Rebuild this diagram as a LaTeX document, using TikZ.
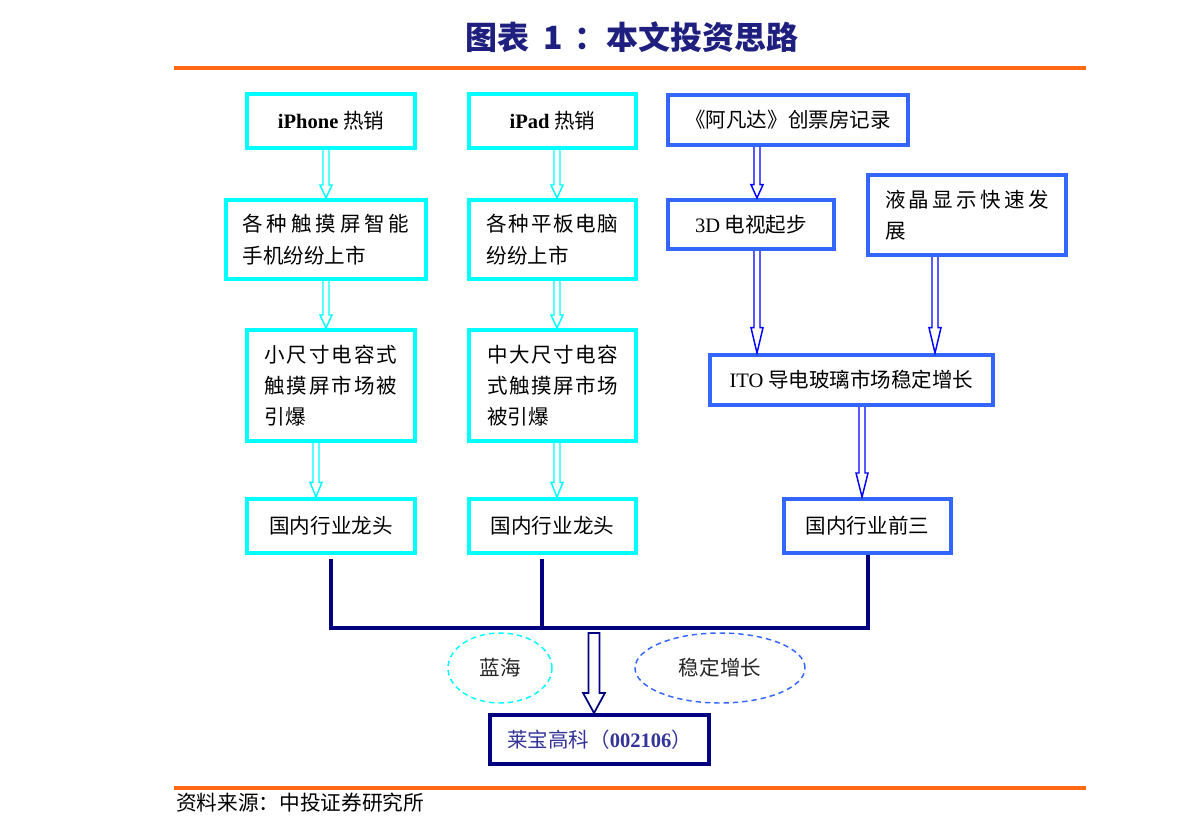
\documentclass[tikz,border=0pt]{standalone}
\usepackage{fontspec}
\setmainfont{Liberation Serif}
\newfontfamily\cjk{Noto Sans CJK SC}
\usetikzlibrary{calc,shapes.geometric}
\definecolor{cyanc}{HTML}{00FFFF}
\definecolor{bluebox}{HTML}{3366FF}
\definecolor{bluearr}{HTML}{0000FF}
\definecolor{navyc}{HTML}{000080}
\definecolor{titlec}{HTML}{1F1F7F}
\definecolor{orangec}{HTML}{FF6A10}
\definecolor{botc}{HTML}{333399}
\newcommand\fs{\fontsize{15.4pt}{23.5pt}\selectfont}
\newcommand\sline[2]{\makebox[#1][s]{#2}}
% #1 style, #2 start, #3 tip, #4 shaft half width, #5 head half width, #6 head length, #7 closing
\newcommand\harrow[7]{\draw[#1] let \p1=(#2), \p2=(#3) in (\x1-#4,\y1) -- (\x1-#4,\y2+#6) -- (\x1-#5,\y2+#6) -- (\x1,\y2) -- (\x1+#5,\y2+#6) -- (\x1+#4,\y2+#6) -- (\x1+#4,\y1) #7;}
\tikzset{
  box/.style={line width=3pt, fill=white, inner sep=0pt, font=\cjk\fs, text=black, align=center},
  cb/.style={box, draw=cyanc},
  bb/.style={box, draw=bluebox},
  sz/.style 2 args={minimum width=#1*0.75pt, minimum height=#2*0.75pt},
  carr/.style={draw=cyanc, line width=1.1pt, line join=miter},
  barr/.style={draw=bluearr, line width=1.1pt, line join=miter},
  narr/.style={draw=navyc, fill=white, line width=1.3pt, line join=miter},
  busl/.style={draw=navyc, line width=3pt, line join=miter},
  oval/.style={ellipse, line width=1.1pt, dash pattern=on 4pt off 3pt, inner sep=0pt, font=\cjk\fs, text=black!85}
}
\begin{document}
\begin{tikzpicture}[x=0.75pt,y=-0.75pt]
\fill[white] (0,0) rectangle (1191,834);
\useasboundingbox (0,0) rectangle (1191,834);

% title and rules
\node[font=\cjk\bfseries\fontsize{24pt}{28pt}\selectfont, text=titlec] (title) at (632,37) {图表\hspace{0.45em}1\hspace{0.35em}：本文投资思路};
\coordinate (r1a) at (174,68); \coordinate (r1b) at (1086,68);
\coordinate (r2a) at (174,788); \coordinate (r2b) at (1086,788);
\draw[orangec, line width=2.4pt] (r1a) -- (r1b);
\draw[orangec, line width=2.4pt] (r2a) -- (r2b);
\node[anchor=west, inner sep=0pt, font=\cjk\fontsize{15.5pt}{18pt}\selectfont] (src) at (176,803) {资料来源：中投证券研究所};

% left columns
\node[cb, sz={168}{54}] (n1) at (331,121) {{\rmfamily\bfseries iPhone} 热销};
\node[cb, sz={167}{54}] (n2) at (552.5,121) {{\rmfamily\bfseries iPad} 热销};
\node[cb, sz={200}{79}, align=left, text width=125.25pt] (n3) at (326,239.5)
  {\sline{125.25pt}{各\hfill 种\hfill 触\hfill 摸\hfill 屏\hfill 智\hfill 能}\\手机纷纷上市};
\node[cb, sz={167}{79}, align=left, text width=99pt] (n4) at (552.5,239.5)
  {\sline{99pt}{各\hfill 种\hfill 平\hfill 板\hfill 电\hfill 脑}\\纷纷上市};
\node[cb, sz={168}{111}, align=left, text width=99.75pt] (n5) at (331,385.5)
  {\sline{99.75pt}{小\hfill 尺\hfill 寸\hfill 电\hfill 容\hfill 式}\\\sline{99.75pt}{触\hfill 摸\hfill 屏\hfill 市\hfill 场\hfill 被}\\引爆};
\node[cb, sz={167}{111}, align=left, text width=98.25pt] (n6) at (552.5,385.5)
  {\sline{98.25pt}{中\hfill 大\hfill 尺\hfill 寸\hfill 电\hfill 容}\\\sline{98.25pt}{式\hfill 触\hfill 摸\hfill 屏\hfill 市\hfill 场}\\被引爆};
\node[cb, sz={168}{54}] (n7) at (331,526) {国内行业龙头};
\node[cb, sz={167}{54}] (n8) at (552.5,526) {国内行业龙头};

% right column
\node[bb, sz={240}{50}] (a1) at (788,120) {《阿凡达》创票房记录};
\node[bb, sz={166}{49}] (a2) at (751,224.5) {{\rmfamily 3D} 电视起步};
\node[bb, sz={198}{80}, align=left, text width=123pt] (a3) at (967,215)
  {\sline{123pt}{液\hfill 晶\hfill 显\hfill 示\hfill 快\hfill 速\hfill 发}\\展};
\node[bb, sz={283}{50}] (a4) at (851.5,380) {{\rmfamily ITO} 导电玻璃市场稳定增长};
\node[bb, sz={167}{54}] (a5) at (867.5,526) {国内行业前三};

% bottom
\node[box, draw=navyc, sz={219}{49}, text=botc] (bot) at (599.5,739.5) {莱宝高科（{\rmfamily\bfseries 002106}）};
\node[oval, draw=cyanc, minimum width=78pt, minimum height=52.5pt] (e1) at (500,668) {蓝海};
\node[oval, draw=bluebox, minimum width=127.5pt, minimum height=52.5pt] (e2) at (720,668) {稳定增长};

% arrow x positions
\coordinate (c1) at (326,0);
\coordinate (c2) at (557,0);
\coordinate (c3) at (316,0);
\coordinate (d1) at (757,0);
\coordinate (d2) at (935,0);
\coordinate (d3) at (862,0);

\harrow{carr}{c1 |- n1.south}{c1 |- n3.north}{2.25pt}{4.5pt}{9.75pt}{}
\harrow{carr}{c2 |- n2.south}{c2 |- n4.north}{2.25pt}{4.5pt}{9.75pt}{}
\harrow{carr}{c1 |- n3.south}{c1 |- n5.north}{2.25pt}{4.5pt}{9.75pt}{}
\harrow{carr}{c2 |- n4.south}{c2 |- n6.north}{2.25pt}{4.5pt}{9.75pt}{}
\harrow{carr}{c3 |- n5.south}{c3 |- n7.north}{2.25pt}{4.5pt}{11pt}{}
\harrow{carr}{c2 |- n6.south}{c2 |- n8.north}{2.25pt}{4.5pt}{11pt}{}

\harrow{barr}{d1 |- a1.south}{d1 |- a2.north}{2.25pt}{4.5pt}{10pt}{}
\harrow{barr}{d1 |- a2.south}{d1 |- a4.north}{2.25pt}{4.5pt}{19pt}{}
\harrow{barr}{d2 |- a3.south}{d2 |- a4.north}{2.25pt}{4.5pt}{19pt}{}
\harrow{barr}{d3 |- a4.south}{d3 |- a5.north}{2.25pt}{4.5pt}{18pt}{}

% bus
\coordinate (bus) at (0,628);
\coordinate (m2) at (542,0);
\draw[busl] ($(n7.south)+(0,4)$) |- (a5.south |- bus) -- (a5.south);
\draw[busl] ($(m2 |- n8.south)+(0,4)$) -- (m2 |- bus);

% central arrow
\coordinate (j) at (594,633);
\harrow{narr}{j}{j |- bot.north}{4.1pt}{8.2pt}{15pt}{-- cycle}
\end{tikzpicture}
\end{document}
